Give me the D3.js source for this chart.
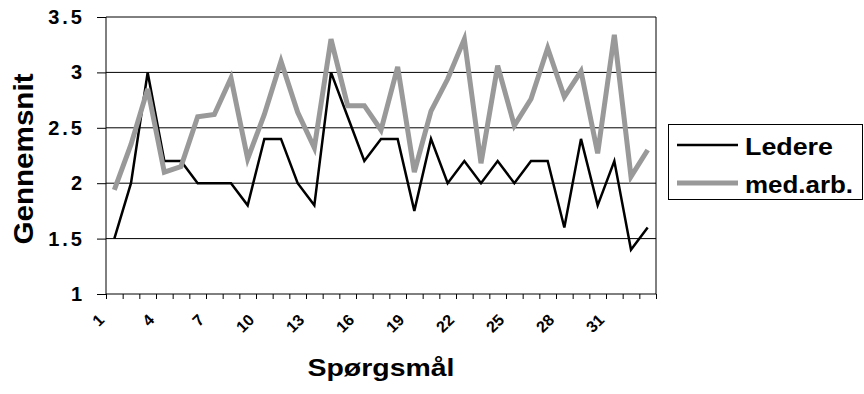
<!DOCTYPE html>
<html>
<head>
<meta charset="utf-8">
<script src="https://cdn.jsdelivr.net/npm/d3@7"></script>
<style>
  body { margin: 0; background: #fff; }
  text { font-family: "Liberation Sans", Arial, sans-serif; font-weight: bold; fill: #000; }
</style>
</head>
<body>
<svg id="chart" width="864" height="394"></svg>
<script>
// questions 1..33
var questions = d3.range(1, 34);

// Ledere (black)
var ledere = [1.5, 2.0, 3.0, 2.2, 2.2, 2.0, 2.0, 2.0, 1.8, 2.4, 2.4, 2.0, 1.8, 3.0, 2.6, 2.2,
              2.4, 2.4, 1.75, 2.4, 2.0, 2.2, 2.0, 2.2, 2.0, 2.2, 2.2, 1.6, 2.4, 1.8, 2.2, 1.4, 1.6];

// med.arb. (grey)
var medarb = [1.94, 2.35, 2.85, 2.1, 2.15, 2.6, 2.62, 2.95, 2.22, 2.62, 3.1, 2.64, 2.32, 3.3, 2.7, 2.7,
              2.48, 3.05, 2.1, 2.65, 2.94, 3.3, 2.18, 3.06, 2.52, 2.76, 3.22, 2.78, 3.01, 2.27, 3.34, 2.06, 2.3];

var yTicks = [1, 1.5, 2, 2.5, 3, 3.5];
var xLabels = [1, 4, 7, 10, 13, 16, 19, 22, 25, 28, 31];

var seriesNames = ["Ledere", "med.arb."];
var seriesColors = ["#000000", "#999999"];
var seriesWidths = [2.5, 5];

var svg = d3.select("#chart");

var plot = { left: 106, right: 656, top: 17, bottom: 294 };

var x = d3.scaleBand()
    .domain(questions)
    .range([plot.left, plot.right])
    .padding(0);

// linear helper for the tick marks between categories
var xEdge = d3.scaleLinear()
    .domain([0, questions.length])
    .range([plot.left, plot.right]);

var y = d3.scaleLinear()
    .domain([1, 3.5])
    .range([plot.bottom, plot.top]);

// gridlines
svg.append("g")
    .selectAll("line")
    .data(yTicks.slice(1))
    .enter()
    .append("line")
    .attr("x1", plot.left)
    .attr("x2", plot.right)
    .attr("y1", function(d) { return y(d); })
    .attr("y2", function(d) { return y(d); })
    .attr("stroke", "#000")
    .attr("stroke-width", 1);

// right border of plot area
svg.append("line")
    .attr("x1", plot.right).attr("x2", plot.right)
    .attr("y1", plot.top).attr("y2", plot.bottom)
    .attr("stroke", "#000");

// y axis
var yAxis = svg.append("g")
    .attr("transform", "translate(" + plot.left + ",0)")
    .call(d3.axisLeft(y).tickValues(yTicks).tickSize(9).tickPadding(12).tickFormat(function(d) { return d; }));
yAxis.selectAll("line, path").attr("stroke", "#000");
yAxis.select(".domain").attr("d", "M0," + plot.bottom + "V" + plot.top);
yAxis.selectAll("text")
    .attr("font-size", 20)
    .attr("font-family", "Liberation Sans, Arial, sans-serif")
    .attr("font-weight", "bold")
    .attr("letter-spacing", 3)
    .attr("fill", "#000");

// x axis ticks at category boundaries
var xAxis = svg.append("g")
    .attr("transform", "translate(0," + plot.bottom + ")")
    .call(d3.axisBottom(xEdge).tickValues(d3.range(0, questions.length + 1)).tickSize(5).tickFormat(""));
xAxis.selectAll("line, path").attr("stroke", "#000");
xAxis.select(".domain").attr("d", "M" + plot.left + ",0H" + plot.right);

// x tick labels, rotated 45 degrees
var xLab = svg.append("g")
    .selectAll("g")
    .data(xLabels)
    .enter()
    .append("g")
    .attr("transform", function(d) {
        var px = x(d) + x.bandwidth() / 2 - 9;
        return "translate(" + px + "," + (plot.bottom + 27) + ") rotate(-45)";
    });
xLab.append("text")
    .attr("text-anchor", "end")
    .style("font-size", "16px")
    .text(function(d) { return d; });

// lines
var line = d3.line()
    .x(function(d, i) { return x(questions[i]) + x.bandwidth() / 2; })
    .y(function(d) { return y(d); });

[ledere, medarb].forEach(function(s, k) {
    svg.append("path")
        .datum(s)
        .attr("fill", "none")
        .attr("stroke", seriesColors[k])
        .attr("stroke-width", seriesWidths[k])
        .attr("stroke-linejoin", "miter")
        .attr("d", line);
});

// axis titles
svg.append("text")
    .attr("x", 381)
    .attr("y", 376)
    .attr("text-anchor", "middle")
    .attr("font-size", 24)
    .attr("textLength", 147)
    .attr("lengthAdjust", "spacingAndGlyphs")
    .text("Spørgsmål");

svg.append("text")
    .attr("transform", "translate(33,159) rotate(-90)")
    .attr("text-anchor", "middle")
    .attr("font-size", 27)
    .attr("textLength", 171)
    .attr("lengthAdjust", "spacingAndGlyphs")
    .text("Gennemsnit");

// legend
var legend = svg.append("g");
legend.append("rect")
    .attr("x", 668.5).attr("y", 124.5)
    .attr("width", 194).attr("height", 75)
    .attr("fill", "#fff")
    .attr("stroke", "#000");

var legendRows = [145, 183];
var legendBase = [155, 192.5];
var legendLen = [88, 108];
seriesNames.forEach(function(name, k) {
    legend.append("line")
        .attr("x1", 677).attr("x2", 738)
        .attr("y1", legendRows[k]).attr("y2", legendRows[k])
        .attr("stroke", seriesColors[k])
        .attr("stroke-width", seriesWidths[k]);
    legend.append("text")
        .attr("x", 745)
        .attr("y", legendBase[k])
        .attr("font-size", 23)
        .attr("textLength", legendLen[k])
        .attr("lengthAdjust", "spacingAndGlyphs")
        .text(name);
});
</script>
</body>
</html>
